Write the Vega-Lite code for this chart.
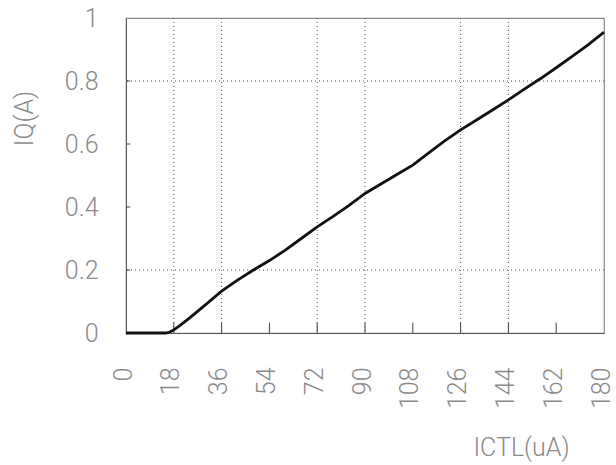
{
  "$schema": "https://vega.github.io/schema/vega-lite/v6.json",
  "width": 478,
  "height": 315,
  "autosize": "none",
  "padding": {"left": 126, "top": 18, "right": 12, "bottom": 132},
  "background": "white",
  "config": {
    "view": {"stroke": "#8a8a8a", "strokeWidth": 1.2},
    "axis": {
      "labelFont": "Roboto, sans-serif",
      "titleFont": "Roboto, sans-serif",
      "labelColor": "#8a8a8a",
      "titleColor": "#8a8a8a",
      "labelFontWeight": 300,
      "titleFontWeight": 300,
      "labelFontSize": 25,
      "titleFontSize": 25,
      "domainColor": "#555555",
      "ticks": false,
      "grid": false
    }
  },
  "datasets": {
    "curve": [
      {"x": 0, "y": 0}, {"x": 5, "y": 0}, {"x": 10, "y": 0}, {"x": 15, "y": 0},
      {"x": 16.5, "y": 0.003}, {"x": 18, "y": 0.01}, {"x": 20, "y": 0.022},
      {"x": 24, "y": 0.048}, {"x": 30, "y": 0.09}, {"x": 36, "y": 0.133},
      {"x": 42, "y": 0.168}, {"x": 48, "y": 0.2}, {"x": 54, "y": 0.23},
      {"x": 60, "y": 0.263}, {"x": 66, "y": 0.3}, {"x": 72, "y": 0.337},
      {"x": 78, "y": 0.37}, {"x": 84, "y": 0.405}, {"x": 90, "y": 0.443},
      {"x": 96, "y": 0.473}, {"x": 102, "y": 0.503}, {"x": 108, "y": 0.533},
      {"x": 114, "y": 0.572}, {"x": 120, "y": 0.61}, {"x": 126, "y": 0.645},
      {"x": 132, "y": 0.676}, {"x": 138, "y": 0.708}, {"x": 144, "y": 0.74},
      {"x": 150, "y": 0.774}, {"x": 156, "y": 0.807}, {"x": 162, "y": 0.842},
      {"x": 168, "y": 0.878}, {"x": 174, "y": 0.915}, {"x": 180, "y": 0.955}
    ],
    "vgrid": [{"x": 18}, {"x": 36}, {"x": 72}, {"x": 90}, {"x": 126}, {"x": 144}],
    "hgrid": [{"y": 0.2}, {"y": 0.8}],
    "xticks": [{"x": 18}, {"x": 36}, {"x": 54}, {"x": 72}, {"x": 90}, {"x": 108}, {"x": 126}, {"x": 144}, {"x": 162}],
    "yticks": [{"y": 0.2}, {"y": 0.4}, {"y": 0.6}, {"y": 0.8}]
  },
  "layer": [
    {
      "data": {"name": "vgrid"},
      "mark": {"type": "rule", "color": "#555555", "strokeWidth": 1, "strokeDash": [1, 3]},
      "encoding": {
        "x": {"field": "x", "type": "quantitative", "scale": {"domain": [0, 180], "nice": false}}
      }
    },
    {
      "data": {"name": "hgrid"},
      "mark": {"type": "rule", "color": "#555555", "strokeWidth": 1, "strokeDash": [1, 3]},
      "encoding": {
        "y": {"field": "y", "type": "quantitative", "scale": {"domain": [0, 1], "nice": false}}
      }
    },
    {
      "data": {"name": "xticks"},
      "mark": {"type": "rule", "color": "#444444", "strokeWidth": 1},
      "encoding": {
        "x": {"field": "x", "type": "quantitative", "scale": {"domain": [0, 180], "nice": false}},
        "y": {"datum": 0, "type": "quantitative", "scale": {"domain": [0, 1], "nice": false}},
        "y2": {"datum": 0.033}
      }
    },
    {
      "data": {"name": "yticks"},
      "mark": {"type": "rule", "color": "#444444", "strokeWidth": 1},
      "encoding": {
        "y": {"field": "y", "type": "quantitative", "scale": {"domain": [0, 1], "nice": false}},
        "x": {"datum": 0, "type": "quantitative", "scale": {"domain": [0, 180], "nice": false}},
        "x2": {"datum": 1.6}
      }
    },
    {
      "data": {"name": "curve"},
      "mark": {"type": "line", "color": "#111111", "strokeWidth": 2.8},
      "encoding": {
        "x": {
          "field": "x", "type": "quantitative",
          "scale": {"domain": [0, 180], "nice": false},
          "axis": {
            "values": [0, 18, 36, 54, 72, 90, 108, 126, 144, 162, 180],
            "labelAngle": -90,
            "labelAlign": "right",
            "labelBaseline": "middle",
            "labelPadding": 34,
            "labelOffset": -3,
            "labelFlush": false,
            "labelOverlap": false,
            "title": "ICTL(uA)",
            "titleX": 395,
            "titleY": 114,
            "titleAlign": "center",
            "titleBaseline": "middle",
            "titleAnchor": null
          }
        },
        "y": {
          "field": "y", "type": "quantitative",
          "scale": {"domain": [0, 1], "nice": false},
          "axis": {
            "values": [0, 0.2, 0.4, 0.6, 0.8, 1],
            "labelExpr": "datum.value == 0 ? '0' : datum.value == 1 ? '1' : format(datum.value, '.1f')",
            "labelPadding": 28,
            "labelFlush": false,
            "labelOverlap": false,
            "title": "IQ(A)",
            "titleAngle": -90,
            "titleX": -102,
            "titleY": 100,
            "titleAlign": "center",
            "titleBaseline": "middle",
            "titleAnchor": null
          }
        }
      }
    }
  ]
}
